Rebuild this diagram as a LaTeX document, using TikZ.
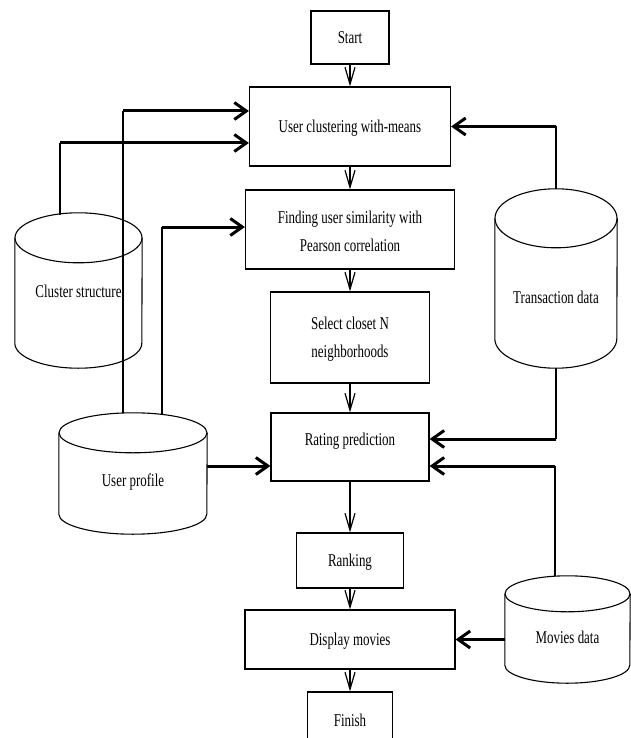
\documentclass[tikz,border=0pt]{standalone}
\usepackage{fontspec}
\setmainfont{Liberation Serif}[FakeStretch=0.72]
\usetikzlibrary{arrows.meta,positioning,calc}

\tikzset{
  box/.style={draw, line width=1.2pt, align=center, inner sep=0pt, font=\fontsize{18}{28}\selectfont},
  line1/.style={text height=12pt, text depth=0pt},
  db/.style={inner sep=0pt, font=\fontsize{18}{28}\selectfont, text depth=0pt},
  drum line/.style={line width=1.1pt},
  flow/.style={-{Straight Barb[length=17pt,width=10pt]}, line width=1.2pt},
  feed/.style={-{Straight Barb[length=12pt,width=17pt]}, line width=3pt},
  wire/.style={line width=1.2pt}
}
% #1 node, #2 half width, #3 cap radius
\newcommand{\drum}[3]{%
  \draw[drum line] ($(#1.north)+(0,#3)$) ellipse [x radius=#2pt, y radius=#3pt];
  \draw[drum line] ($(#1.north west)+(0,#3)$) -- ($(#1.south west)+(0,-#3)$)
    arc [start angle=180, end angle=360, x radius=#2pt, y radius=#3pt] -- ($(#1.north east)+(0,#3)$);
}

\begin{document}
\begin{tikzpicture}[x=1pt,y=-1pt]
\useasboundingbox (0,0) rectangle (631,738);

\node[box, line1, minimum width=78pt, minimum height=53pt]  (start)  at (350,37.5)                          {Start};
\node[box, line1, minimum width=201pt, minimum height=79pt] (uc)     [below of=start, node distance=89pt]   {User clustering with-means};
\node[box, text height=46pt, text depth=3pt, minimum width=209pt, minimum height=79pt]
                                                            (find)   [below of=uc, node distance=103pt]     {Finding user similarity with\\Pearson correlation};
\node[box, text height=43pt, text depth=3pt, minimum width=159pt, minimum height=91pt]
                                                            (select) [below of=find, node distance=108pt]   {Select closet N\\neighborhoods};
\node[box, text height=12pt, text depth=16pt, minimum width=158pt, minimum height=68pt]
                                                            (rate)   [below of=select, node distance=109.5pt] {Rating prediction};
\node[box, line1, minimum width=107pt, minimum height=55pt] (rank)   [below of=rate, node distance=113.5pt] {Ranking};
\node[box, line1, minimum width=210pt, minimum height=59pt] (disp)   [below of=rank, node distance=79pt]    {Display movies};
\node[box, line1, minimum width=85pt, minimum height=56pt]  (finish) [below of=disp, node distance=80.5pt]  {Finish};

\node[db, text height=13pt, minimum width=127pt, minimum height=155pt] (clu)   at (78.5,290.5)  {Cluster structure};
\node[db, text height=49pt, minimum width=122pt, minimum height=179pt] (trans) at (556,278.5)   {Transaction data};
\node[db, text height=25pt, minimum width=148pt, minimum height=121pt] (up)    at (133,473.5)   {User profile};
\node[db, text height=27pt, minimum width=125pt, minimum height=107pt] (mov)   at (567.5,629.5) {Movies data};
\drum{clu}{63.5}{25}
\drum{trans}{61}{29.5}
\drum{up}{74}{20}
\drum{mov}{62.5}{18}

\path[flow] (start) edge (uc)
            (uc) edge (find)
            (find) edge (select)
            (select) edge (rate)
            (rate) edge (rank)
            (rank) edge (disp)
            (disp) edge (finish);

\coordinate (up1) at ($(up.north)+(-10,0)$);
\coordinate (up2) at ($(up.north)+(29,1.5)$);
\coordinate (clu1) at ($(clu.north)+(-18.5,2)$);
\coordinate (mov1) at ($(mov.north)+(-12.5,0)$);
\coordinate (uc1) at ($(uc.west)+(0,-15.5)$);
\coordinate (uc2) at ($(uc.west)+(0,16.5)$);
\coordinate (find1) at ($(find.west)+(0,-2.5)$);
\coordinate (rate1) at ($(rate.east)+(0,-8)$);
\coordinate (rate2) at ($(rate.east)+(0,19)$);
\coordinate (rate3) at ($(rate.west)+(0,19)$);

\draw[wire] (up1) -- (up1 |- uc1);
\draw[feed] (up1 |- uc1) -- (uc1);
\draw[wire] (clu1) -- (clu1 |- uc2);
\draw[feed] (clu1 |- uc2) -- (uc2);
\draw[wire] (up2) -- (up2 |- find1);
\draw[feed] (up2 |- find1) -- (find1);
\draw[wire] (trans.north) -- (trans.north |- uc.east);
\draw[feed] (trans.north |- uc.east) -- (uc.east);
\draw[wire] (trans.south) -- (trans.south |- rate1);
\draw[feed] (trans.south |- rate1) -- (rate1);
\draw[wire] (mov1) -- (mov1 |- rate2);
\draw[feed] (mov1 |- rate2) -- (rate2);
\draw[feed] (up.east |- rate3) -- (rate3);
\draw[feed] (mov.west |- disp.east) -- (disp.east);

\end{tikzpicture}
\end{document}
